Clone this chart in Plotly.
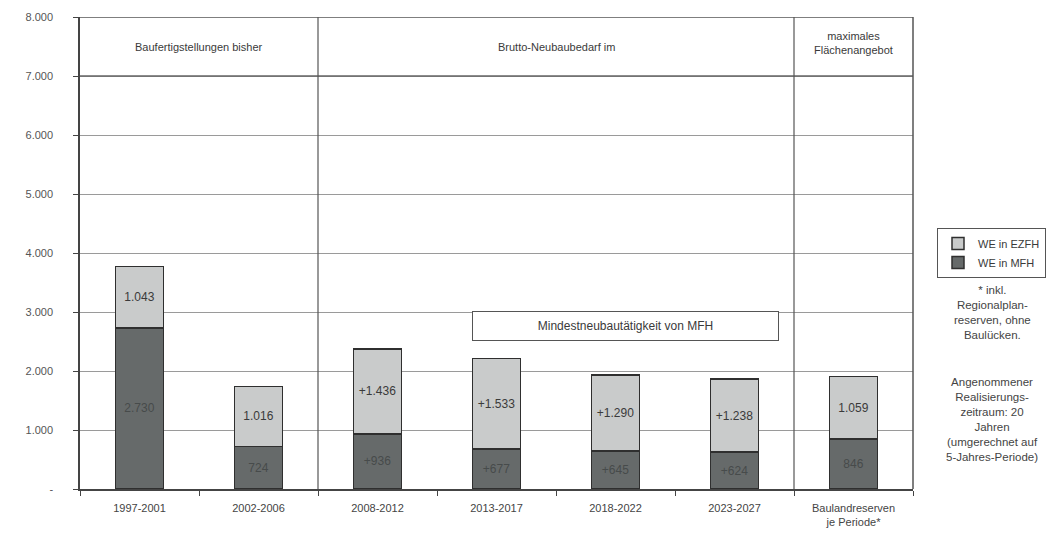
import plotly.graph_objects as go

categories = ["1997-2001", "2002-2006", "2008-2012", "2013-2017", "2018-2022", "2023-2027",
              "Baulandreserven<br>je Periode*"]
we_mfh = [2730, 724, 936, 677, 645, 624, 846]
we_ezfh = [1043, 1016, 1436, 1533, 1290, 1238, 1059]
label_prefix = ["", "", "+", "+", "+", "+", ""]
y_tickvals = [0, 1000, 2000, 3000, 4000, 5000, 6000, 7000, 8000]
y_ticktext = ["-", "1.000", "2.000", "3.000", "4.000", "5.000", "6.000", "7.000", "8.000"]

def fmt(v):
    return f"{v:,}".replace(",", ".")

FONT = "Liberation Sans, Arial, sans-serif"
TXT = "#3a3a3a"
fig = go.Figure()
fig.add_trace(go.Bar(
    x=categories, y=we_mfh, name="WE in MFH",
    marker=dict(color="#666a6a", line=dict(color="#2f2f2f", width=1.5)),
    text=[p + fmt(v) for p, v in zip(label_prefix, we_mfh)],
    textposition="inside", insidetextanchor="middle",
    textfont=dict(color="#474b4b", size=12, family=FONT),
    width=0.4,
))
fig.add_trace(go.Bar(
    x=categories, y=we_ezfh, name="WE in EZFH",
    marker=dict(color="#c9cbcb", line=dict(color="#2f2f2f", width=1.5)),
    text=[p + fmt(v) for p, v in zip(label_prefix, we_ezfh)],
    textposition="inside", insidetextanchor="middle",
    textfont=dict(color="#3a3a3a", size=12, family=FONT),
    width=0.4,
))

fig.update_layout(
    barmode="stack",
    width=1053, height=534,
    margin=dict(l=80, r=140, t=17, b=45, autoexpand=False),
    paper_bgcolor="white", plot_bgcolor="white",
    font=dict(family=FONT, size=11, color=TXT),
    uniformtext=dict(mode="show", minsize=8),
    legend=dict(xref="container", yref="container", x=937 / 1053, y=1 - 228 / 534,
                xanchor="left", yanchor="top",
                bordercolor="#555", borderwidth=1, traceorder="reversed",
                font=dict(size=11, color=TXT), itemwidth=30,
                tracegroupgap=0),
    showlegend=True,
)
fig.update_yaxes(range=[0, 8000], tickvals=y_tickvals, ticktext=y_ticktext,
                 showgrid=True, gridcolor="#9a9a9a", gridwidth=1.2,
                 showline=True, linecolor="#444", linewidth=1.5,
                 ticks="outside", ticklen=5, tickcolor="#444",
                 ticklabelstandoff=18, tickfont=dict(size=11, color="#555"),
                 zeroline=False)
fig.update_xaxes(showline=True, linecolor="#444", linewidth=1.5,
                 ticks="outside", ticklen=5, tickcolor="#444",
                 tickson="boundaries", tickfont=dict(size=11, color="#444"),
                 ticklabelstandoff=8, range=[-0.5, 6.5])

# frame lines
fig.add_shape(type="line", xref="paper", yref="y", x0=0, x1=1, y0=8000, y1=8000,
              line=dict(color="#555", width=1.5))
fig.add_shape(type="line", xref="paper", yref="y", x0=0, x1=1, y0=7000, y1=7000,
              line=dict(color="#666", width=1.5))
fig.add_shape(type="line", xref="paper", yref="y", x0=1, x1=1, y0=0, y1=8000,
              line=dict(color="#555", width=1.5))
for xb in [1.5, 5.5]:
    fig.add_shape(type="line", xref="x", yref="y", x0=xb, x1=xb, y0=0, y1=8000,
                  line=dict(color="#555", width=1.2))

# header texts
fig.add_annotation(x=0.5, y=7500, xref="x", yref="y", text="Baufertigstellungen bisher",
                   showarrow=False, font=dict(size=11, color=TXT))
fig.add_annotation(x=3.5, y=7500, xref="x", yref="y", text="Brutto-Neubaubedarf im",
                   showarrow=False, font=dict(size=11, color=TXT))
fig.add_annotation(x=6, y=7560, xref="x", yref="y", text="maximales<br>Flächenangebot",
                   showarrow=False, font=dict(size=11, color=TXT))

# Mindestneubautätigkeit box
fig.add_annotation(x=0.655, y=2760, xref="paper", yref="y",
                   text="Mindestneubautätigkeit von MFH", showarrow=False,
                   font=dict(size=12, color=TXT), width=303, height=26,
                   bordercolor="#555", borderwidth=1, bgcolor="white")

# side notes
fig.add_annotation(x=1.095, y=0.4386, xref="paper", yref="paper",
                   xanchor="center", yanchor="top",
                   text="* inkl.<br>Regionalplan-<br>reserven, ohne<br>Baulücken.",
                   showarrow=False, font=dict(size=11.5, color="#444"))
fig.add_annotation(x=1.095, y=0.2436, xref="paper", yref="paper",
                   xanchor="center", yanchor="top",
                   text="Angenommener<br>Realisierungs-<br>zeitraum: 20<br>Jahren<br>(umgerechnet auf<br>5-Jahres-Periode)",
                   showarrow=False, font=dict(size=11.5, color="#444"))

fig.write_html("out.html")
